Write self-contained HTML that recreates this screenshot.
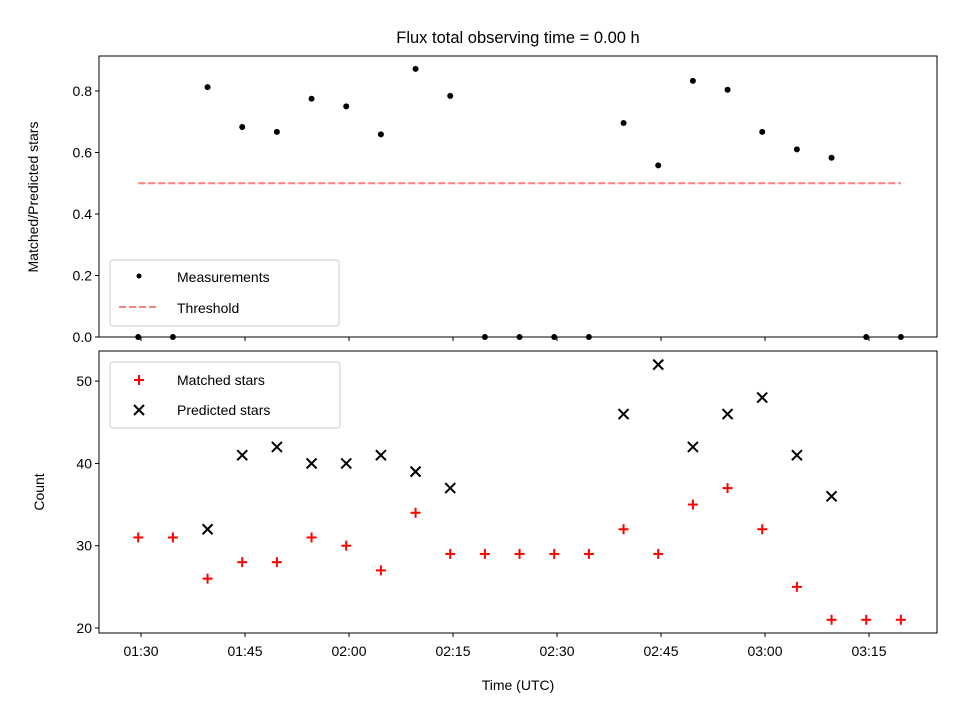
<!DOCTYPE html>
<html><head><meta charset="utf-8"><style>
body{margin:0;background:#fff;}
svg{display:block;font-family:"Liberation Sans","DejaVu Sans",sans-serif;}
</style></head><body>
<svg id="chart" width="960" height="720" xmlns="http://www.w3.org/2000/svg">
<rect width="960" height="720" fill="#fff"/>
<text x="518" y="43" font-size="16.5" text-anchor="middle">Flux total observing time = 0.00 h</text>
<g id="top-panel"></g><g id="bot-panel"></g>
</svg>
<script>
const timesMin=[89.6,94.6,99.6,104.6,109.6,114.6,119.6,124.6,129.6,134.6,139.6,144.6,149.6,154.6,159.6,164.6,169.6,174.6,179.6,184.6,189.6,194.6,199.6];
const matched=[31,31,26,28,28,31,30,27,34,29,29,29,29,29,32,29,35,37,32,25,21,21,21];
const predicted=[null,null,32,41,42,40,40,41,39,37,null,null,null,null,46,52,42,46,48,41,36,null,null];
const ratio=[0,0,0.8125,0.683,0.667,0.775,0.75,0.659,0.872,0.784,0,0,0,0,0.696,0.558,0.833,0.804,0.667,0.610,0.583,0,0];
const threshold=0.5;
const xTicks=[90,105,120,135,150,165,180,195];
const xTickLabels=["01:30","01:45","02:00","02:15","02:30","02:45","03:00","03:15"];
const topTicks=[0,0.2,0.4,0.6,0.8];
const botTicks=[20,30,40,50];

const NS="http://www.w3.org/2000/svg";
const L=99,R=937;
const X=t=>141+(t-90)*104/15;
const Yt=v=>337-v*307.5;
const Yb=v=>628-(v-20)*8.23;
function mk(p,tag,at){const e=document.createElementNS(NS,tag);for(const k in at)e.setAttribute(k,at[k]);p.appendChild(e);return e;}
const topG=document.getElementById('top-panel'),botG=document.getElementById('bot-panel');

const tf=mk(topG,'rect',{x:L,y:56,width:R-L,height:281,fill:'none',stroke:'#000','stroke-width':1});


topTicks.forEach(v=>{
 const y=Yt(v);
 const tk=mk(topG,'line',{x1:L-4,x2:L,y1:y,y2:y,stroke:'#000'});
 
 
 const tl=mk(topG,'text',{x:L-7,y:y+5,'font-size':14,'text-anchor':'end'});tl.textContent=v.toFixed(1);
 
 
});
xTicks.forEach(t=>{
 const tk=mk(topG,'line',{x1:X(t),x2:X(t),y1:337,y2:341,stroke:'#000'});
 
 
});
const yt=mk(topG,'text',{x:0,y:0,'font-size':14,'text-anchor':'middle',transform:'translate(38,197) rotate(-90)'});yt.textContent='Matched/Predicted stars';


const th=mk(topG,'line',{x1:X(timesMin[0]),x2:X(timesMin[timesMin.length-1]),y1:Yt(threshold),y2:Yt(threshold),stroke:'#ff7f7f','stroke-width':2,'stroke-dasharray':'7,3'});


ratio.forEach((v,i)=>{
 const c=mk(topG,'circle',{cx:X(timesMin[i]),cy:Yt(v),r:3,fill:'#000'});
 
 
});
const lg=mk(topG,'g',{});


mk(lg,'rect',{x:110,y:260,width:229,height:66,rx:3,fill:'#fff','fill-opacity':0.8,stroke:'#ccc'});
mk(lg,'circle',{cx:139,cy:276,r:2.5,fill:'#000'});
let t1=mk(lg,'text',{x:177,y:282,'font-size':14});t1.textContent='Measurements';


mk(lg,'line',{x1:119,x2:159,y1:307,y2:307,stroke:'#ff7f7f','stroke-width':2,'stroke-dasharray':'7,3'});
let t2=mk(lg,'text',{x:177,y:313,'font-size':14});t2.textContent='Threshold';



const bf=mk(botG,'rect',{x:L,y:351,width:R-L,height:282,fill:'none',stroke:'#000'});


botTicks.forEach(v=>{
 const y=Yb(v);
 const tk=mk(botG,'line',{x1:L-4,x2:L,y1:y,y2:y,stroke:'#000'});
 
 
 const tl=mk(botG,'text',{x:L-7,y:y+5,'font-size':14,'text-anchor':'end'});tl.textContent=v;
 
 
});
xTicks.forEach((t,i)=>{
 const tk=mk(botG,'line',{x1:X(t),x2:X(t),y1:633,y2:637,stroke:'#000'});
 
 
 const tl=mk(botG,'text',{x:X(t),y:656,'font-size':14,'text-anchor':'middle'});tl.textContent=xTickLabels[i];
 
 
});
const yb=mk(botG,'text',{x:0,y:0,'font-size':14,'text-anchor':'middle',transform:'translate(44,492) rotate(-90)'});yb.textContent='Count';


const xt=mk(botG,'text',{x:518,y:690,'font-size':14,'text-anchor':'middle'});xt.textContent='Time (UTC)';


function plus(p,x,y){const g=mk(p,'g',{stroke:'#f00','stroke-width':2});mk(g,'line',{x1:x-5,x2:x+5,y1:y,y2:y});mk(g,'line',{x1:x,x2:x,y1:y-5,y2:y+5});return g;}
function cross(p,x,y){const g=mk(p,'g',{stroke:'#000','stroke-width':2});mk(g,'line',{x1:x-5,x2:x+5,y1:y-5,y2:y+5});mk(g,'line',{x1:x-5,x2:x+5,y1:y+5,y2:y-5});return g;}
matched.forEach((v,i)=>{
 const g=plus(botG,X(timesMin[i]),Yb(v));
 
 
});
predicted.forEach((v,i)=>{
 if(v===null)return;
 const g=cross(botG,X(timesMin[i]),Yb(v));
 
 
});
const lb=mk(botG,'g',{});


mk(lb,'rect',{x:110,y:362,width:230,height:66,rx:3,fill:'#fff','fill-opacity':0.8,stroke:'#ccc'});
plus(lb,139,380);
let t3=mk(lb,'text',{x:177,y:385,'font-size':14});t3.textContent='Matched stars';


cross(lb,139,410);
let t4=mk(lb,'text',{x:177,y:415,'font-size':14});t4.textContent='Predicted stars';


</script>
</body></html>
